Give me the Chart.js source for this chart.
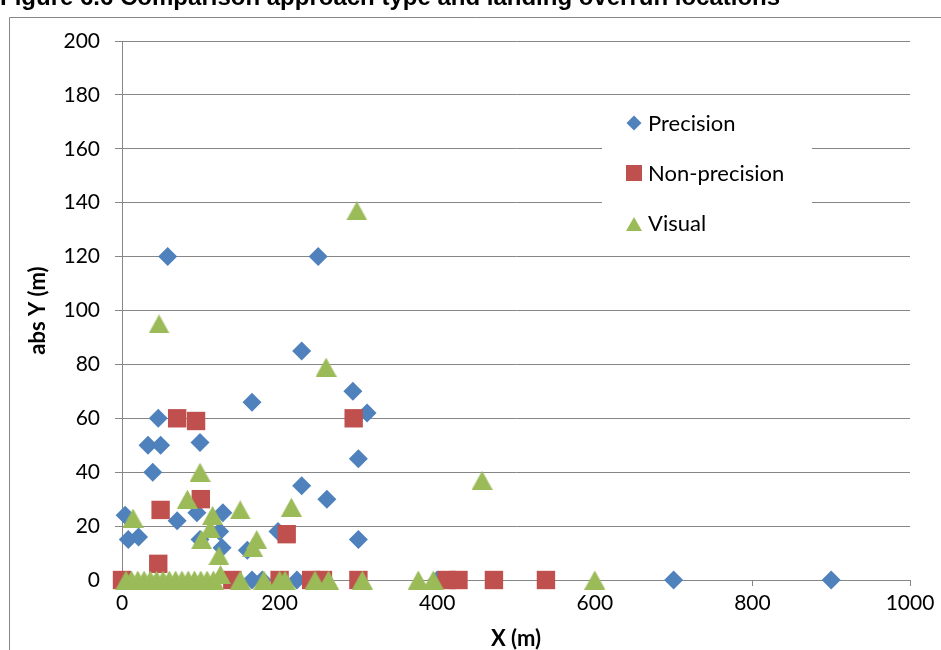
<!DOCTYPE html>
<html>
<head>
<meta charset="utf-8">
<script src="https://cdn.jsdelivr.net/npm/chart.js@4.4.1/dist/chart.umd.min.js"></script>
<style>
  html, body { margin: 0; padding: 0; background: #ffffff; }
  #wrap { position: relative; width: 941px; height: 650px; }
</style>
</head>
<body>
<div id="wrap"><canvas id="c" width="941" height="650"></canvas></div>
<script>
// Text
const chartTitle = 'Figure 6.6 Comparison approach type and landing overrun locations';
const xAxisTitle = 'X (m)';
const yAxisTitle = 'abs Y (m)';
const seriesNames = ['Precision', 'Non-precision', 'Visual'];

// Axis ranges and tick steps
const xRange = [0, 1000];
const xStep = 200;
const yRange = [0, 200];
const yStep = 20;

// Overrun end positions, X along the runway and |Y| off the centreline (m)
const precisionX = [4, 8, 21, 33, 39, 46, 49, 58, 70, 95, 99, 99, 124, 127, 128, 159, 165, 198, 228, 228, 249, 260, 293, 300, 300, 311, 165, 178, 222, 400, 700, 900];
const precisionY = [24, 15, 16, 50, 40, 60, 50, 120, 22, 25, 51, 15, 18, 12, 25, 11, 66, 18, 35, 85, 120, 30, 70, 45, 15, 62, 0, 0, 0, 0, 0, 0];

const nonPrecisionX = [0, 46, 49, 70, 94, 100, 140, 200, 209, 240, 255, 294, 300, 412, 427, 472, 538];
const nonPrecisionY = [0, 6, 26, 60, 59, 30, 0, 0, 17, 0, 0, 60, 0, 0, 0, 0, 0];

const visualX = [14, 47, 83, 99, 101, 112, 115, 123, 125, 150, 166, 171, 215, 259, 298, 457,
                 5, 12, 20, 28, 36, 44, 52, 60, 68, 76, 84, 92, 100, 108, 116, 150, 180, 200, 207, 245, 262, 305, 376, 395, 600];
const visualY = [23, 95, 30, 40, 15, 19, 24, 9, 2, 26, 12, 15, 27, 79, 137, 37,
                 0, 0, 0, 0, 0, 0, 0, 0, 0, 0, 0, 0, 0, 0, 0, 0, 0, 0, 0, 0, 0, 0, 0, 0, 0];

const toPoints = (xs, ys) => xs.map((x, i) => ({ x: x, y: ys[i] }));

const GRID = '#868686';
const FONT = 'Lato, "DejaVu Sans", sans-serif';
const BLUE = '#4F81BD', RED = '#C0504D', GREEN = '#9BBB59';

// Triangle marker whose bounding box is centred on the data point
function triangleMarker(w, h, color) {
  const cv = document.createElement('canvas');
  cv.width = w; cv.height = h;
  const g = cv.getContext('2d');
  g.fillStyle = color;
  g.beginPath();
  g.moveTo(w / 2, 0);
  g.lineTo(w, h);
  g.lineTo(0, h);
  g.closePath();
  g.fill();
  return cv;
}
const visualMarker = triangleMarker(21, 19, GREEN);
const visualLegendMarker = triangleMarker(16, 14, GREEN);

// Page frame and the heading above the plot
const framePlugin = {
  id: 'frame',
  beforeDraw(chart) {
    const ctx = chart.ctx;
    ctx.save();
    ctx.fillStyle = '#ffffff';
    ctx.fillRect(0, 0, chart.width, chart.height);
    ctx.strokeStyle = GRID;
    ctx.lineWidth = 1;
    ctx.beginPath();
    ctx.moveTo(9.5, chart.height + 2);
    ctx.lineTo(9.5, 17.5);
    ctx.lineTo(chart.width + 2, 17.5);
    ctx.stroke();
    ctx.fillStyle = '#000000';
    ctx.font = 'bold 24px "Liberation Sans", Arial, sans-serif';
    ctx.textAlign = 'left';
    ctx.textBaseline = 'alphabetic';
    ctx.fillText(chartTitle, 0, 5);
    ctx.restore();
  }
};

// Legend box drawn inside the plot area
const insideLegend = {
  id: 'insideLegend',
  afterDatasetsDraw(chart) {
    const ctx = chart.ctx;
    const box = { x: 602, y: 100, w: 210, h: 145 };
    ctx.save();
    ctx.fillStyle = '#ffffff';
    ctx.fillRect(box.x, box.y, box.w, box.h);
    ctx.font = '22px ' + FONT;
    ctx.textAlign = 'left';
    ctx.textBaseline = 'middle';
    chart.data.datasets.forEach((ds, i) => {
      const cy = 123 + i * 50;
      const mx = 634;
      ctx.fillStyle = ds.backgroundColor;
      ctx.beginPath();
      if (ds.pointStyle === 'rectRot') {
        const r = 7.5;
        ctx.moveTo(mx, cy - r); ctx.lineTo(mx + r, cy); ctx.lineTo(mx, cy + r); ctx.lineTo(mx - r, cy);
        ctx.closePath();
        ctx.fill();
      } else if (ds.pointStyle === 'rect') {
        ctx.rect(mx - 8, cy - 8, 16, 16);
        ctx.fill();
      } else {
        ctx.drawImage(visualLegendMarker, mx - 8, cy - 6);
      }
      ctx.fillStyle = '#000000';
      ctx.fillText(ds.label, 648, cy + 1);
    });
    ctx.restore();
  }
};

const chart = new Chart(document.getElementById('c'), {
  type: 'scatter',
  data: {
    datasets: [
      { label: seriesNames[0], data: toPoints(precisionX, precisionY), pointStyle: 'rectRot', pointRadius: 9.5,
        backgroundColor: BLUE, borderColor: BLUE, borderWidth: 0, order: 3, clip: false },
      { label: seriesNames[1], data: toPoints(nonPrecisionX, nonPrecisionY), pointStyle: 'rect', pointRadius: 13,
        backgroundColor: RED, borderColor: RED, borderWidth: 0, order: 2, clip: false },
      { label: seriesNames[2], data: toPoints(visualX, visualY), pointStyle: visualMarker, pointRadius: 10.5,
        backgroundColor: GREEN, borderColor: GREEN, borderWidth: 0, order: 1, clip: false }
    ]
  },
  options: {
    responsive: false,
    animation: false,
    devicePixelRatio: 1,
    layout: { padding: { left: 0, right: 31, top: 41, bottom: 0 } },
    plugins: { legend: { display: false }, tooltip: { enabled: false } },
    scales: {
      x: {
        type: 'linear', min: xRange[0], max: xRange[1],
        afterFit(scale) { scale.height = 70; },
        ticks: { stepSize: xStep, color: '#000000', padding: 5, font: { family: FONT, size: 21 },
                 callback: (v) => String(v) },
        grid: { display: true, drawOnChartArea: false, drawTicks: true, tickLength: 6, color: GRID },
        border: { display: true, color: GRID },
        title: { display: true, text: xAxisTitle, color: '#000000', padding: { top: 0, bottom: 0 },
                 font: { family: FONT, size: 22, weight: 'bold', lineHeight: 1.0 } }
      },
      y: {
        type: 'linear', min: yRange[0], max: yRange[1],
        afterFit(scale) { scale.width = 122; },
        ticks: { stepSize: yStep, color: '#000000', padding: 15, font: { family: FONT, size: 21 },
                 callback: (v) => String(v) },
        grid: { color: GRID, tickLength: 7 },
        border: { display: true, color: GRID },
        title: { display: true, text: yAxisTitle, color: '#000000', padding: { top: 25, bottom: 0 },
                 font: { family: FONT, size: 22, weight: 'bold', lineHeight: 1.2 } }
      }
    }
  },
  plugins: [framePlugin, insideLegend]
});
</script>
</body>
</html>
